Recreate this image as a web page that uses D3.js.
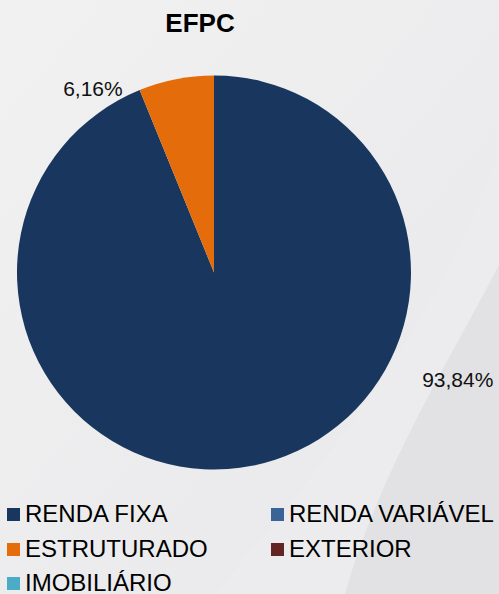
<!DOCTYPE html>
<html>
<head>
<meta charset="utf-8">
<script src="https://cdn.jsdelivr.net/npm/d3@7"></script>
<style>
  html, body { margin: 0; padding: 0; background: #ececee; }
  svg { display: block; }
</style>
</head>
<body>
<div id="chart"></div>
<script>
// data
const categories = ["RENDA FIXA", "RENDA VARIÁVEL", "ESTRUTURADO", "EXTERIOR", "IMOBILIÁRIO"];
const values = [93.84, 0, 6.16, 0, 0];
const colors = ["#19375e", "#3a6496", "#e46c0a", "#632523", "#4bacc6"];
const title = "EFPC";

const width = 499;
const height = 594;
const cx = 214, cy = 272.5, radius = 197;

const svg = d3.select("#chart").append("svg")
  .attr("width", width)
  .attr("height", height);

// background with soft swooshes
const defs = svg.append("defs");
const bgGrad = defs.append("linearGradient")
  .attr("id", "bg").attr("x1", "0").attr("y1", "0").attr("x2", "1").attr("y2", "1");
bgGrad.append("stop").attr("offset", "0%").attr("stop-color", "#f1f1f2");
bgGrad.append("stop").attr("offset", "100%").attr("stop-color", "#e8e8ea");

svg.append("rect")
  .attr("width", width).attr("height", height)
  .attr("fill", "url(#bg)");

svg.append("path")
  .attr("d", "M499,150 C450,300 330,460 215,594 L499,594 Z")
  .attr("fill", "#ececee");

svg.append("path")
  .attr("d", "M499,265 C450,360 380,470 345,594 L499,594 Z")
  .attr("fill", "#e2e2e4");

// pie
const pie = d3.pie().sort(null).value(d => d);
const arcs = pie(values);
const arc = d3.arc().innerRadius(0).outerRadius(radius);

const g = svg.append("g")
  .attr("transform", `translate(${cx}, ${cy})`);

g.selectAll("path.slice")
  .data(arcs.filter(d => d.value > 0))
  .join("path")
  .attr("class", "slice")
  .attr("d", arc)
  .attr("fill", d => colors[d.index]);

// data labels ("best fit" placement: angle in degrees and distance from center)
const labelFit = { 0: { angle: 113.6, dist: 266 }, 2: { angle: -33.3, dist: 220.5 } };
const fmt = v => v.toFixed(2).replace(".", ",") + "%";

g.selectAll("text.label")
  .data(arcs.filter(d => d.value > 0))
  .join("text")
  .attr("class", "label")
  .attr("x", d => labelFit[d.index].dist * Math.sin(labelFit[d.index].angle * Math.PI / 180))
  .attr("y", d => -labelFit[d.index].dist * Math.cos(labelFit[d.index].angle * Math.PI / 180))
  .attr("dy", "0.36em")
  .attr("text-anchor", "middle")
  .style("font-family", "'Liberation Sans', Arial, sans-serif")
  .style("font-size", "21px")
  .style("fill", "#111")
  .text(d => fmt(d.value));

// title
svg.append("text")
  .attr("x", 200)
  .attr("y", 32)
  .attr("text-anchor", "middle")
  .style("font-family", "'Liberation Sans', Arial, sans-serif")
  .style("font-size", "26px")
  .style("font-weight", "bold")
  .style("fill", "#000")
  .text(title);

// legend
const colX = [7, 271];
const rowY = [522, 557, 591];

const legend = svg.selectAll("g.legend")
  .data(categories)
  .join("g")
  .attr("class", "legend")
  .attr("transform", (d, i) => `translate(${colX[i % 2]}, ${rowY[Math.floor(i / 2)]})`);

legend.append("rect")
  .attr("x", 0)
  .attr("y", -14)
  .attr("width", 13)
  .attr("height", 13)
  .attr("fill", (d, i) => colors[i]);

legend.append("text")
  .attr("x", 18)
  .attr("y", 0)
  .style("font-family", "'Liberation Sans', Arial, sans-serif")
  .style("font-size", "24px")
  .style("fill", "#000")
  .text(d => d);
</script>
</body>
</html>
